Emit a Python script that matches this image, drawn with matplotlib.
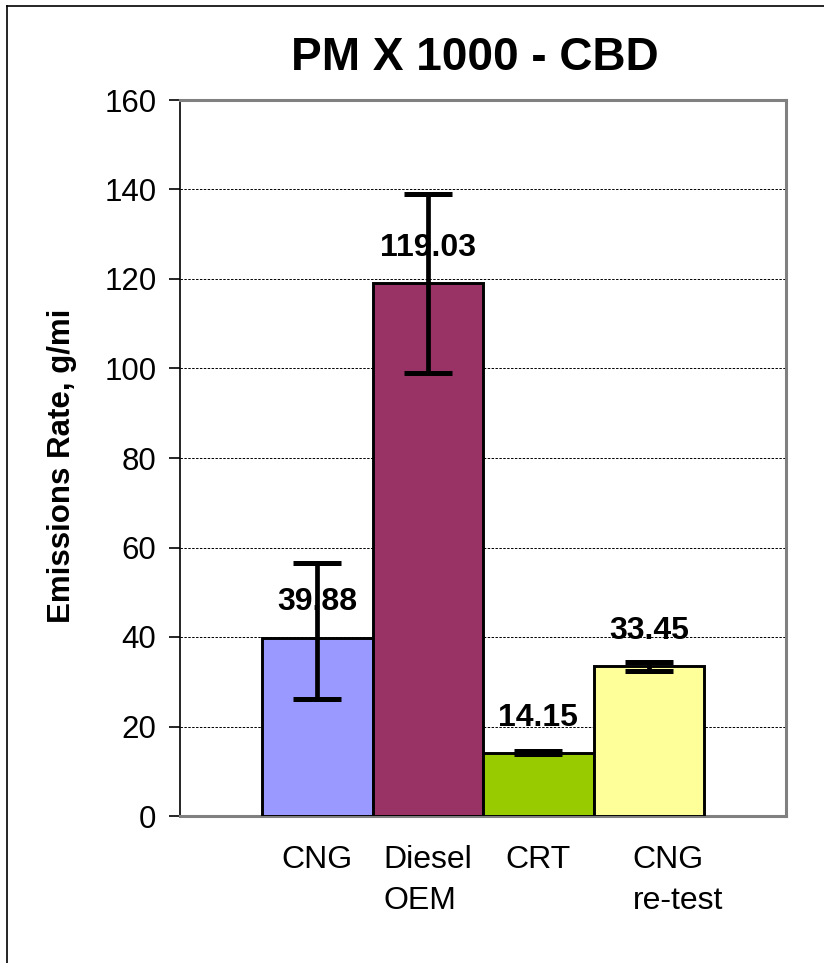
import matplotlib
matplotlib.use('Agg')
import matplotlib.pyplot as plt
from matplotlib.lines import Line2D

plt.rcParams['font.family'] = ['Liberation Sans', 'DejaVu Sans']

# data
categories = ['CNG', 'Diesel\nOEM', 'CRT', 'CNG\nre-test']
values = [39.88, 119.03, 14.15, 33.45]
err_low = [26.1, 99.03, 13.85, 32.5]
err_high = [56.6, 139.03, 14.45, 34.4]
colors = ['#9999FF', '#993366', '#99CC00', '#FFFF99']
y_ticks = [0, 20, 40, 60, 80, 100, 120, 140, 160]

W, H = 824, 963
fig = plt.figure(figsize=(W / 100, H / 100), dpi=100)
ax = fig.add_axes([180 / W, 1 - 816 / H, (786 - 180) / W, (816 - 100) / H])

x = list(range(len(values)))
ax.bar(x, values, width=1.0, color=colors, edgecolor='black', linewidth=2.1, zorder=3)

yerr = [[v - lo for v, lo in zip(values, err_low)],
        [hi - v for v, hi in zip(values, err_high)]]
ax.errorbar(x, values, yerr=yerr, fmt='none', ecolor='black', elinewidth=3.4,
            capsize=17, capthick=3.6, zorder=4)

# value labels above the bars
for i, v in enumerate(values):
    ax.annotate(f'{v:.2f}', xy=(i, v), xytext=(0, 19.5), textcoords='offset points',
                ha='center', va='baseline', fontsize=23, fontweight='bold', zorder=5)

# category labels under the bars
for i, lab in enumerate(categories):
    dx = 21 if lab.startswith('CNG\n') else 0
    ax.annotate(lab, xy=(i, 0), xycoords=('data', 'axes fraction'),
                xytext=(dx, -21), textcoords='offset points',
                ha='center', va='top', multialignment='left',
                fontsize=23, linespacing=1.45, annotation_clip=False)

ax.set_xlim(-0.5 - 82 / 110.5, len(values) - 0.5 + 82 / 110.5)
ax.set_ylim(0, 160)
ax.set_yticks(y_ticks)
ax.set_xticks([])
ax.tick_params(axis='y', labelsize=22.5, length=8, width=1.2, pad=9, direction='out')

ax.yaxis.grid(True, color='black', linestyle=(0, (2.5, 1.5)), linewidth=0.7, zorder=1)
ax.set_axisbelow(True)

for side in ['top', 'right', 'bottom']:
    ax.spines[side].set_color('#808080')
    ax.spines[side].set_linewidth(2.2)
ax.spines['left'].set_color('black')
ax.spines['left'].set_linewidth(1.2)

fig.text(475 / W, 1 - 70 / H, 'PM X 1000 - CBD', ha='center', va='baseline',
         fontsize=33, fontweight='bold')
fig.text(62 / W, 1 - 466 / H, 'Emissions Rate, g/mi', rotation=90, ha='center',
         va='center', fontsize=22.5, fontweight='bold')

# outer chart border (only top and left edges fall inside the picture)
fig.add_artist(Line2D([7 / W, 7 / W], [1 - 6 / H, 0], transform=fig.transFigure,
                      color='black', linewidth=1.2))
fig.add_artist(Line2D([7 / W, 1], [1 - 6 / H, 1 - 6 / H], transform=fig.transFigure,
                      color='black', linewidth=1.2))

fig.savefig('out.png', dpi=100)
